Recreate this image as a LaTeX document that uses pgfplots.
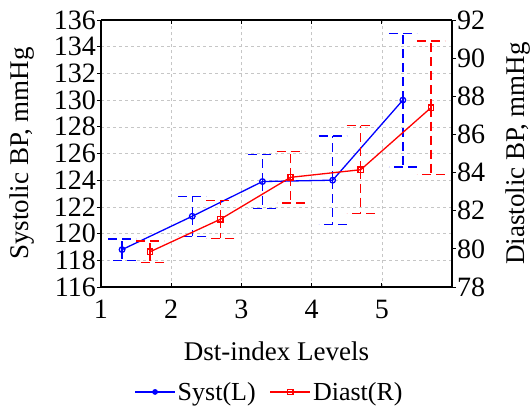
\documentclass[border=0pt]{standalone}
\usepackage{fontspec}
\setmainfont{Liberation Serif}
\usepackage{pgfplots}
\pgfplotsset{compat=1.18}
\begin{document}
\begin{tikzpicture}
\useasboundingbox (-101pt,-118pt) rectangle (431pt,287pt);
\pgfplotsset{
  every axis/.append style={
    scale only axis, width=351pt, height=267pt,
    at={(0,0)}, anchor=south west,
    xmin=1, xmax=6, xtick={1,2,3,4,5}, xticklabels={1,2,3,4,5},
    tick label style={font=\rmfamily\fontsize{28}{32}\selectfont, inner sep=1pt},
    label style={font=\rmfamily\fontsize{27}{31}\selectfont},
    axis line style={line width=1.6pt},
    tick style={black, line width=0.8pt},
    tick align=inside,
    major tick length=4pt,
  },
  myerr/.style={error bars/.cd, y dir=both, y explicit,
    error bar style={line width=1.3pt, dash pattern=on 9pt off 5pt},
    error mark options={line width=1.3pt, dash pattern=on 9pt off 5pt, rotate=90, mark size=14pt}},
}
\begin{axis}[
  ymin=116, ymax=136, ytick={116,118,...,136},
  yticklabels={116,118,120,122,124,126,128,130,132,134,136},
  axis y line*=left,
  axis x line*=box,
  xticklabel style={anchor=base, yshift=-31pt},
  ytick style={xshift=-4pt},
  yticklabel style={xshift=-4pt},
  xlabel={Dst-index Levels},
  ylabel={Systolic BP, mmHg},
  xlabel style={at={(axis description cs:0.5,-0.24)}, anchor=center},
  ylabel style={at={(axis description cs:-0.225,0.5)}, anchor=center},
  grid=major,
  grid style={gray!45, dashed, line width=0.5pt},
]
\addplot[blue, line width=1.3pt, mark=o, mark size=2.8pt, mark options={solid}, myerr]
  coordinates {
  (1.3,118.8) +- (0,0.8)
  (2.3,121.3) +- (0,1.5)
  (3.3,123.9) +- (0,2.0)
  (4.3,124.0) +- (0,3.3)
  (5.3,130.0) +- (0,5.0)
};
\end{axis}
\begin{axis}[
  ymin=78, ymax=92, ytick={78,80,...,92},
  yticklabels={78,80,82,84,86,88,90,92},
  axis y line*=right,
  axis x line=none,
  ytick style={xshift=4pt},
  yticklabel style={xshift=4pt},
  ylabel={Diastolic BP, mmHg},
  ylabel style={at={(axis description cs:1.188,0.5)}, anchor=center},
  legend style={at={(axis description cs:0.48,-0.393)}, anchor=center, draw=none, fill=none, legend columns=2,
    font=\rmfamily\fontsize{26}{30}\selectfont, /tikz/every even column/.append style={column sep=12pt}},
  legend image code/.code={\draw[mark repeat=2,mark phase=2] plot coordinates {(0pt,0pt) (20pt,0pt) (40pt,0pt)};},
]
\addlegendimage{blue, line width=1.3pt, mark=*, mark size=2.2pt}
\addlegendentry{Syst(L)}
\addplot[red, line width=1.3pt, mark=square, mark size=2.6pt, mark options={solid}, myerr]
  coordinates {
  (1.7,79.85) +- (0,0.57)
  (2.7,81.55) +- (0,1.0)
  (3.7,83.75) +- (0,1.35)
  (4.7,84.15) +- (0,2.3)
  (5.7,87.4) +- (0,3.5)
};
\addlegendentry{Diast(R)}
\end{axis}
\end{tikzpicture}
\end{document}
